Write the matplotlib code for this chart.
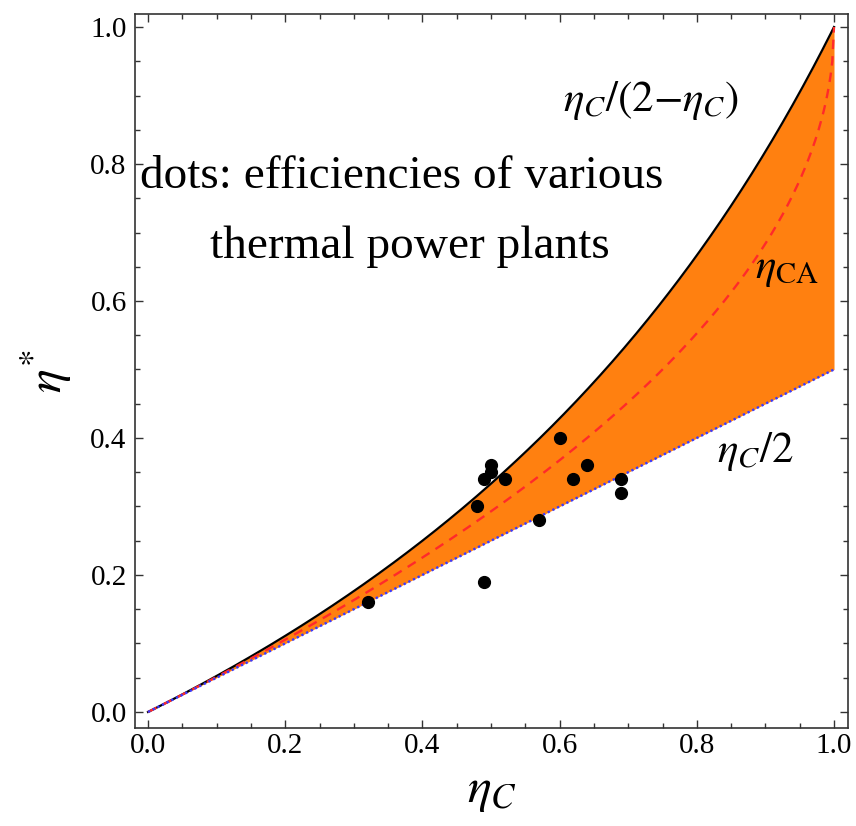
import numpy as np
import matplotlib
matplotlib.use("Agg")
import matplotlib.pyplot as plt

plt.rcParams["font.family"] = ["Liberation Serif", "DejaVu Serif"]
plt.rcParams["mathtext.fontset"] = "stix"

# measured efficiencies of thermal power plants (eta_C, eta*)
plant_eta_c = [0.32, 0.49, 0.48, 0.50, 0.50, 0.49, 0.52, 0.60, 0.64, 0.62, 0.57, 0.69, 0.69]
plant_eta = [0.16, 0.19, 0.30, 0.36, 0.35, 0.34, 0.34, 0.40, 0.36, 0.34, 0.28, 0.34, 0.32]

tick_values = [0.0, 0.2, 0.4, 0.6, 0.8, 1.0]

eta_c = np.linspace(0.0, 1.0, 400)
upper = eta_c / (2 - eta_c)
lower = eta_c / 2
curzon = 1 - np.sqrt(1 - eta_c)

fig = plt.figure(figsize=(8.56, 8.26), dpi=100)
ax = fig.add_axes([135 / 856, 1 - 728 / 826, 713 / 856, 714 / 826])

ax.fill_between(eta_c, lower, upper, color="#FF8010", lw=0, zorder=1)
ax.plot(eta_c, upper, color="black", lw=1.6, zorder=3)
ax.plot(eta_c, curzon, color="#FF2A2A", lw=1.7, ls=(0, (4, 3)), zorder=3)
ax.plot(eta_c, lower, color="#3A3AFF", lw=1.7, ls=(0, (1, 1.2)), zorder=3)
ax.plot(plant_eta_c, plant_eta, "o", color="black", ms=8.5, zorder=4)

ax.set_xlim(-0.019, 1.0204)
ax.set_ylim(-0.0234, 1.019)
ax.set_xticks(tick_values)
ax.set_yticks(tick_values)
ax.set_xticks(np.arange(0, 1.001, 0.05), minor=True)
ax.set_yticks(np.arange(0, 1.001, 0.05), minor=True)
ax.set_xticklabels([f"{v:.1f}" for v in tick_values])
ax.set_yticklabels([f"{v:.1f}" for v in tick_values])
ax.tick_params(which="both", direction="in", top=True, right=True, labelsize=21, color="#333333")
ax.tick_params(which="major", length=6, width=1)
ax.tick_params(which="minor", length=3.5, width=1)
ax.tick_params(axis="y", pad=6)
for spine in ax.spines.values():
    spine.set_color("#333333")
    spine.set_linewidth(1.2)

ax.set_xlabel(r"$\eta_C$", fontsize=36, labelpad=6)
ax.set_ylabel(r"$\eta^{*}$", fontsize=36, labelpad=12)

ax.text(-0.012, 0.765, "dots: efficiencies of various", fontsize=34, ha="left", va="baseline")
ax.text(0.09, 0.663, "thermal power plants", fontsize=34, ha="left", va="baseline")
ax.text(0.605, 0.893, r"$\eta_C/(2{-}\eta_C)$", fontsize=31, ha="left", va="center")
ax.text(0.885, 0.645, r"$\eta_{\mathrm{CA}}$", fontsize=31, ha="left", va="center")
ax.text(0.83, 0.38, r"$\eta_C/2$", fontsize=31, ha="left", va="center")

fig.savefig("out.png", dpi=100)
